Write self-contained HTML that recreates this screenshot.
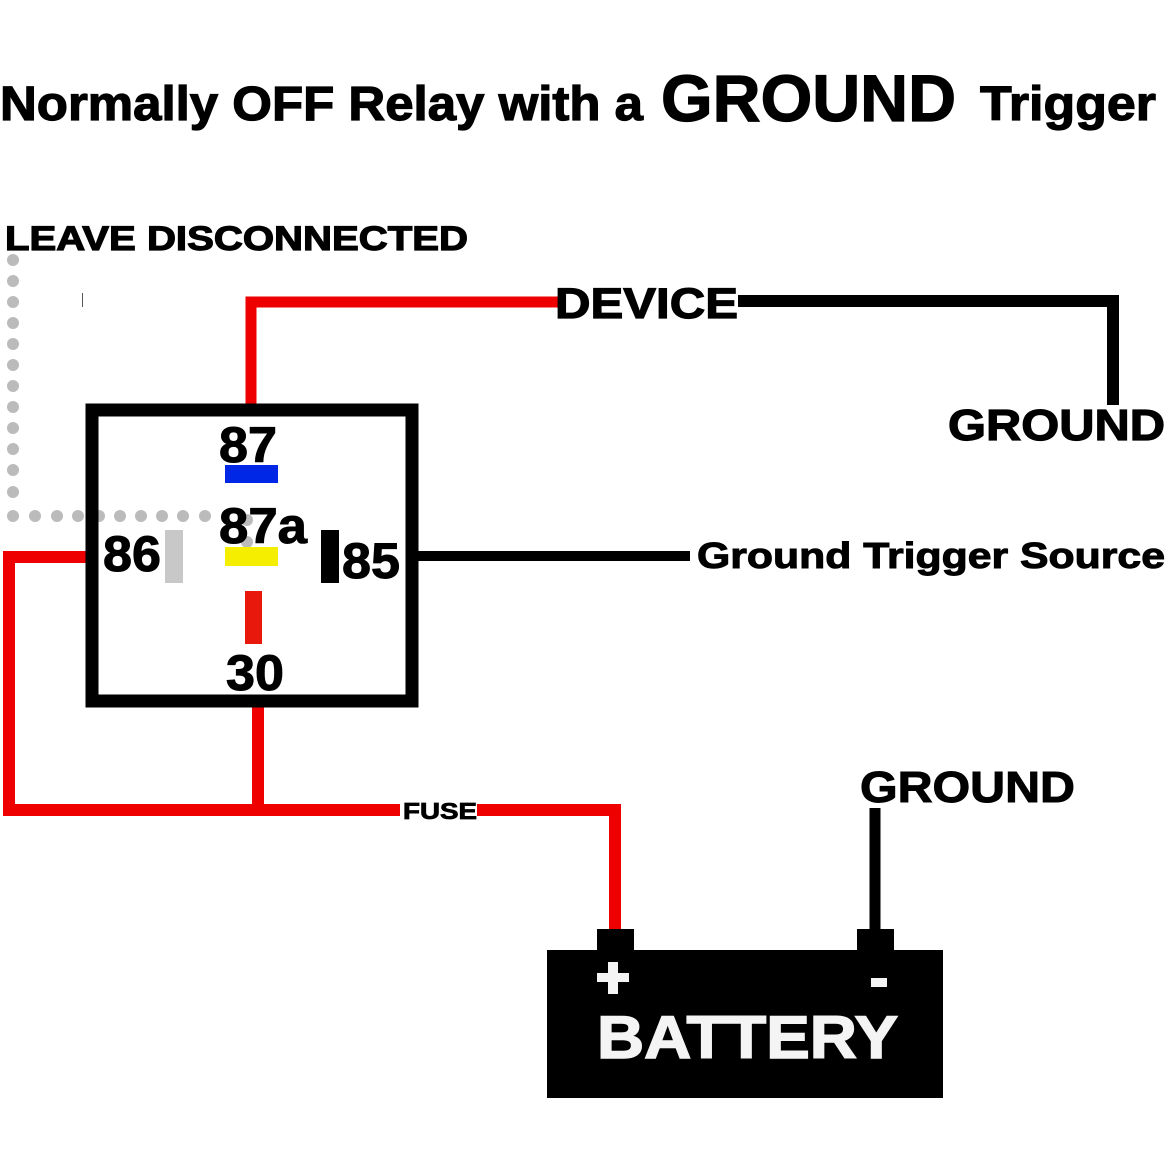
<!DOCTYPE html>
<html><head><meta charset="utf-8"><style>html,body{margin:0;padding:0;background:#fff}svg{display:block}</style></head>
<body>
<svg width="1168" height="1168" viewBox="0 0 1168 1168" xmlns="http://www.w3.org/2000/svg" font-family="Liberation Sans, sans-serif" font-weight="bold">
<rect width="1168" height="1168" fill="#fff"/>
<g stroke="#000" stroke-width="1.2">
<text x="0" y="120" font-size="48" textLength="643" lengthAdjust="spacingAndGlyphs">Normally OFF Relay with a</text>
<text x="661" y="121" font-size="66" textLength="295" lengthAdjust="spacingAndGlyphs">GROUND</text>
<text x="980" y="120" font-size="48" textLength="176" lengthAdjust="spacingAndGlyphs">Trigger</text>
<text x="5" y="250" font-size="34" textLength="463" lengthAdjust="spacingAndGlyphs">LEAVE DISCONNECTED</text>
</g>
<g fill="#bbb">
<circle cx="13" cy="260" r="6"/><circle cx="13" cy="281" r="6"/><circle cx="13" cy="302" r="6"/><circle cx="13" cy="323" r="6"/><circle cx="13" cy="344" r="6"/><circle cx="13" cy="365" r="6"/><circle cx="13" cy="386" r="6"/><circle cx="13" cy="407" r="6"/><circle cx="13" cy="428" r="6"/><circle cx="13" cy="449" r="6"/><circle cx="13" cy="470" r="6"/><circle cx="13" cy="492" r="6"/>
<circle cx="13" cy="516" r="6"/><circle cx="35" cy="516" r="6"/><circle cx="57" cy="516" r="6"/><circle cx="78" cy="516" r="6"/><circle cx="99" cy="516" r="6"/><circle cx="120" cy="516" r="6"/><circle cx="141" cy="516" r="6"/><circle cx="162" cy="516" r="6"/><circle cx="183" cy="516" r="6"/><circle cx="205" cy="516" r="6"/><circle cx="247" cy="520" r="6"/><circle cx="247" cy="542" r="6"/>
</g>
<rect x="82" y="293" width="1" height="14" fill="#555"/>
<path d="M251 410 V302 H560" fill="none" stroke="#e00" stroke-width="11"/>
<path d="M738 301 H1113 V405" fill="none" stroke="#000" stroke-width="12"/>
<g stroke="#000" stroke-width="1.2">
<text x="555" y="318" font-size="43" textLength="183" lengthAdjust="spacingAndGlyphs">DEVICE</text>
<text x="948" y="440" font-size="44" textLength="217" lengthAdjust="spacingAndGlyphs">GROUND</text>
</g>
<path d="M92 557 H9 V810 H400 M258 700 V810 M477 810 H615 V930" fill="none" stroke="#e00" stroke-width="12"/>
<text x="403" y="819" font-size="23" textLength="74" lengthAdjust="spacingAndGlyphs" stroke="#000" stroke-width="0.8">FUSE</text>
<path d="M412 556 H690" stroke="#000" stroke-width="10"/>
<text x="697" y="568" font-size="36" textLength="468" lengthAdjust="spacingAndGlyphs" stroke="#000" stroke-width="1">Ground Trigger Source</text>
<rect x="92" y="410" width="320" height="291" fill="none" stroke="#000" stroke-width="13"/>
<g stroke="#000" stroke-width="1">
<text x="219" y="462" font-size="50" textLength="58" lengthAdjust="spacingAndGlyphs">87</text>
<text x="219" y="543" font-size="50" textLength="88" lengthAdjust="spacingAndGlyphs">87a</text>
<text x="103" y="571" font-size="50" textLength="58" lengthAdjust="spacingAndGlyphs">86</text>
<text x="342" y="578" font-size="50" textLength="58" lengthAdjust="spacingAndGlyphs">85</text>
<text x="226" y="690" font-size="50" textLength="58" lengthAdjust="spacingAndGlyphs">30</text>
<text x="860" y="802" font-size="44" textLength="215" lengthAdjust="spacingAndGlyphs">GROUND</text>
</g>
<rect x="225" y="465" width="53" height="18" fill="#0026e6"/>
<rect x="225" y="547" width="53" height="19" fill="#f5ee00"/>
<rect x="165" y="530" width="18" height="53" fill="#c8c8c8"/>
<rect x="321" y="530" width="18" height="53" fill="#000"/>
<rect x="245" y="591" width="17" height="53" fill="#e8190c"/>
<path d="M875 808 V930" stroke="#000" stroke-width="11"/>
<rect x="597" y="929" width="37" height="22" fill="#000"/>
<rect x="857" y="929" width="37" height="22" fill="#000"/>
<rect x="547" y="950" width="396" height="148" fill="#000"/>
<rect x="597" y="973" width="32" height="9" fill="#f4f4f4"/>
<rect x="608" y="962" width="10" height="32" fill="#f4f4f4"/>
<rect x="871" y="978" width="16" height="9" fill="#f4f4f4"/>
<text x="597" y="1058" font-size="60" fill="#f4f4f4" stroke="#f4f4f4" stroke-width="1.5" textLength="301" lengthAdjust="spacingAndGlyphs">BATTERY</text>
</svg>
</body></html>
